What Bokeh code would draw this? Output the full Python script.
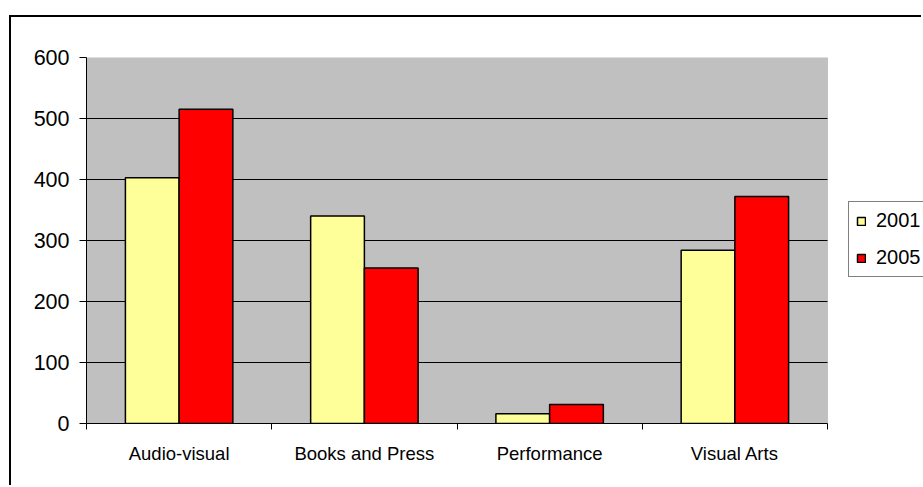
import numpy as np
from bokeh.plotting import figure
from bokeh.models import FixedTicker, Legend, LegendItem, Range1d, BoxAnnotation
from bokeh.embed import file_html
from bokeh.resources import INLINE

categories = ["Audio-visual", "Books and Press", "Performance", "Visual Arts"]
series_names = ["2001", "2005"]
values_2001 = [403, 340, 16, 284]
values_2005 = [515, 255, 31, 372]
y_ticks = [0, 100, 200, 300, 400, 500, 600]
colors = ["#FFFF99", "#FF0000"]

FONT = "Liberation Sans"

# layout constants (pixels)
PLOT_AREA_W = 741       # width of the grey plot area
FRAME_W = 837           # frame reaches the right edge so the legend is not clipped
n = len(categories)

p = figure(width=912, height=470, x_range=Range1d(0, n * FRAME_W / PLOT_AREA_W),
           y_range=Range1d(y_ticks[0], y_ticks[-1]), output_backend="svg",
           toolbar_location=None,
           min_border_left=75, min_border_right=0, min_border_top=40,
           min_border_bottom=64)
p.styles = {"margin-left": "9px", "margin-top": "15px",
            "border-top": "2px solid black", "border-left": "2px solid black"}

p.background_fill_color = "white"
p.border_fill_color = "white"
p.outline_line_color = None

# grey plot area
area = BoxAnnotation(left=0, right=n, bottom=y_ticks[0], top=y_ticks[-1],
                     fill_color="#C0C0C0", fill_alpha=1,
                     line_color="#808080", line_width=1, level="underlay")
p.add_layout(area)

# horizontal gridlines across the plot area only
inner = y_ticks[1:-1]
p.segment(x0=[0] * len(inner), x1=[n] * len(inner), y0=inner, y1=inner,
          line_color="black", line_width=1)

idx = np.arange(n)
bar_w = 0.29
r1 = p.vbar(x=idx + 0.5 - bar_w / 2, top=values_2001, width=bar_w,
            fill_color=colors[0], line_color="black", line_width=1.5)
r2 = p.vbar(x=idx + 0.5 + bar_w / 2, top=values_2005, width=bar_w,
            fill_color=colors[1], line_color="black", line_width=1.5)

# x axis
xa = p.xaxis[0]
xa.bounds = (0, n)
xa.ticker = FixedTicker(ticks=list(idx + 0.5), minor_ticks=list(range(n + 1)))
xa.major_label_overrides = {float(i + 0.5): c for i, c in enumerate(categories)}
xa.major_tick_out = 0
xa.major_tick_in = 0
xa.minor_tick_out = 6
xa.minor_tick_in = 0
xa.minor_tick_line_color = "black"
xa.axis_line_color = "black"
xa.major_label_text_font = FONT
xa.major_label_text_font_size = "18.5px"
xa.major_label_text_color = "black"
xa.major_label_standoff = 13

# y axis
ya = p.yaxis[0]
ya.ticker = FixedTicker(ticks=y_ticks)
ya.major_tick_out = 7
ya.major_tick_in = 0
ya.minor_tick_line_color = None
ya.axis_line_color = "black"
ya.major_tick_line_color = "black"
ya.major_label_text_font = FONT
ya.major_label_text_font_size = "21.5px"
ya.major_label_text_color = "black"
ya.major_label_standoff = 10

p.xgrid.grid_line_color = None
p.ygrid.grid_line_color = None

legend = Legend(items=[LegendItem(label=series_names[0], renderers=[r1]),
                       LegendItem(label=series_names[1], renderers=[r2])],
                location=(762, 146))
legend.glyph_width = 10
legend.glyph_height = 10
legend.label_height = 18
legend.label_width = 50
legend.label_text_font = FONT
legend.label_text_font_size = "20px"
legend.label_text_color = "black"
legend.label_standoff = 10
legend.padding = 7
legend.spacing = 14
legend.margin = 0
legend.border_line_color = "black"
legend.border_line_width = 1
legend.background_fill_color = "white"
legend.background_fill_alpha = 1
p.add_layout(legend)

open("out.html", "w").write(file_html(p, INLINE))
